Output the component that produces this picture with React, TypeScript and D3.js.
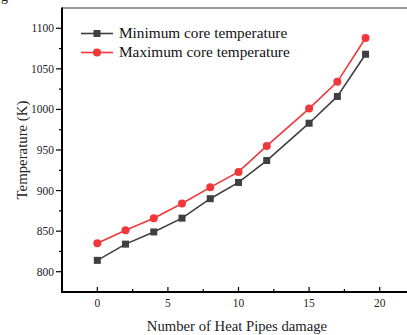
import React from "react";
import * as d3 from "d3";

const damage = [0, 2, 4, 6, 8, 10, 12, 15, 17, 19];
const minTemp = [814, 834, 849, 866, 890, 910, 937, 983, 1016, 1068];
const maxTemp = [835, 851, 866, 884, 904, 923, 955, 1001, 1034, 1088];
const xTicks = [0, 5, 10, 15, 20];
const xMinor = [2.5, 7.5, 12.5, 17.5];
const yTicks = [800, 850, 900, 950, 1000, 1050, 1100];
const yMinor = [825, 875, 925, 975, 1025, 1075];
const seriesNames = ["Minimum core temperature", "Maximum core temperature"];

const W = 407;
const H = 335;
const font = '"Liberation Serif", "Times New Roman", Times, "DejaVu Serif", serif';
const ts = { fontFamily: font };

export default function App() {
  const x = d3.scaleLinear().domain([-2.5, 22.5]).range([62, 415]);
  const y = d3.scaleLinear().domain([775, 1125]).range([292, 8]);
  const line = d3
    .line<number>()
    .x((_, i) => x(damage[i]))
    .y((d) => y(d));
  const black = "#3f3f3f";
  const red = "#f0373a";
  const x0 = x(-2.5);
  const yb = y(775);
  const yt = y(1125);

  return (
    <svg
      width={W}
      height={H}
      style={{ position: "absolute", left: 0, top: 0, background: "#fff", fontFamily: font }}
    >
      <rect width={W} height={H} fill="#fff" />
      <text x={1} y={1} fontSize={14} fill="#222" style={ts}>g</text>
      {/* top border */}
      <line x1={x0} x2={W} y1={yt} y2={yt} stroke="#7a7a7a" strokeWidth={1.5} />
      {/* left axis */}
      <line x1={x0} x2={x0} y1={yt - 0.5} y2={yb + 1} stroke="#000" strokeWidth={2} />
      {/* bottom axis */}
      <line x1={x0 - 1} x2={W} y1={yb} y2={yb} stroke="#000" strokeWidth={2} />
      {yTicks.map((t) => (
        <g key={"y" + t}>
          <line x1={x0 - 6} x2={x0} y1={y(t)} y2={y(t)} stroke="#000" strokeWidth={1.2} />
          <text x={x0 - 8} y={y(t)} dy="0.35em" textAnchor="end" fontSize={11.5} fill="#222" style={ts}>
            {t}
          </text>
        </g>
      ))}
      {yMinor.map((t) => (
        <line key={"ym" + t} x1={x0 - 3} x2={x0} y1={y(t)} y2={y(t)} stroke="#000" strokeWidth={1.2} />
      ))}
      {xTicks.map((t) => (
        <g key={"x" + t}>
          <line x1={x(t)} x2={x(t)} y1={yb - 5} y2={yb} stroke="#000" strokeWidth={1.2} />
          <text x={x(t)} y={yb + 15} textAnchor="middle" fontSize={11.5} fill="#222" style={ts}>
            {t}
          </text>
        </g>
      ))}
      {xMinor.map((t) => (
        <line key={"xm" + t} x1={x(t)} x2={x(t)} y1={yb - 3} y2={yb} stroke="#000" strokeWidth={1.2} />
      ))}
      <text
        transform={`translate(26.5,150) rotate(-90)`}
        textAnchor="middle"
        fontSize={14.8}
        fill="#222"
        style={ts}
      >
        Temperature (K)
      </text>
      <text x={237} y={331} textAnchor="middle" fontSize={14.7} fill="#222" style={ts}>
        Number of Heat Pipes damage
      </text>
      {/* series */}
      <path d={line(minTemp) || ""} fill="none" stroke={black} strokeWidth={1.6} />
      <path d={line(maxTemp) || ""} fill="none" stroke={red} strokeWidth={1.6} />
      {minTemp.map((v, i) => (
        <rect key={"mn" + i} x={x(damage[i]) - 3.5} y={y(v) - 3.5} width={7} height={7} fill={black} />
      ))}
      {maxTemp.map((v, i) => (
        <circle key={"mx" + i} cx={x(damage[i])} cy={y(v)} r={4} fill={red} />
      ))}
      {/* legend */}
      <g>
        <line x1={81} x2={113} y1={33.5} y2={33.5} stroke={black} strokeWidth={1.6} />
        <rect x={97 - 3.5} y={33.5 - 3.5} width={7} height={7} fill={black} />
        <text x={119} y={38.3} fontSize={15.3} fill="#111" style={ts}>
          {seriesNames[0]}
        </text>
        <line x1={81} x2={113} y1={52.5} y2={52.5} stroke={red} strokeWidth={1.6} />
        <circle cx={97} cy={52.5} r={4} fill={red} />
        <text x={119} y={57} fontSize={15.3} fill="#111" style={ts}>
          {seriesNames[1]}
        </text>
      </g>
    </svg>
  );
}
